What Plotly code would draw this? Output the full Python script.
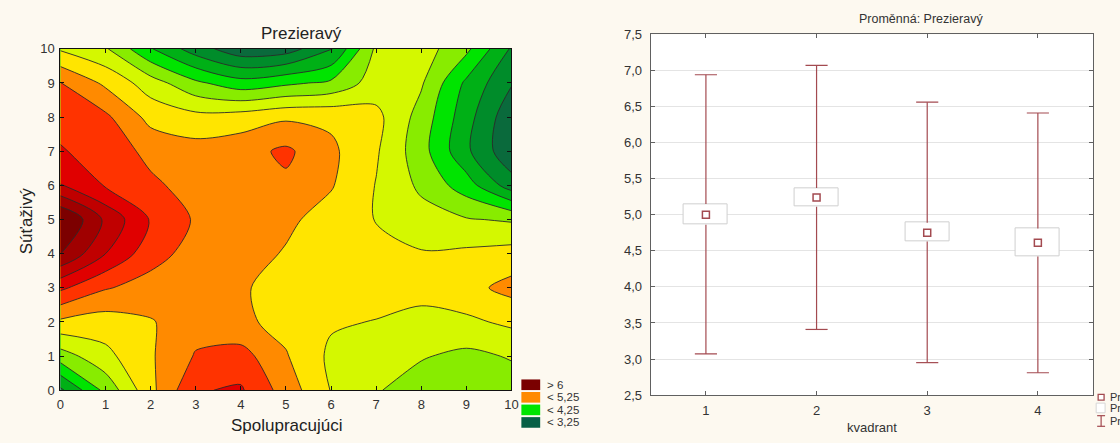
import plotly.graph_objects as go

W, H = 1120, 443

# ---------------- left panel: contour "Prezieravý" ----------------
spolupracujuci = [0, 1, 2, 3, 4, 5, 6, 7, 8, 9, 10]
sutazivy = [0, 1, 2, 3, 4, 5, 6, 7, 8, 9, 10]
prezieravy_y0 = [3.70, 4.32, 4.93, 5.48, 5.53, 5.14, 4.74, 4.52, 4.38, 4.33, 4.38]
prezieravy_y1 = [4.38, 4.68, 4.97, 5.27, 5.35, 5.02, 4.70, 4.60, 4.52, 4.44, 4.52]
prezieravy_y2 = [4.95, 4.88, 4.98, 5.15, 5.05, 4.92, 4.78, 4.74, 4.66, 4.70, 4.80]
prezieravy_y3 = [5.55, 5.27, 5.15, 5.10, 5.03, 4.90, 4.88, 4.86, 4.85, 4.92, 5.08]
prezieravy_y4 = [6.26, 5.75, 5.35, 5.15, 5.10, 4.98, 4.90, 4.82, 4.77, 4.80, 4.85]
prezieravy_y5 = [6.55, 5.95, 5.48, 5.22, 5.12, 5.05, 4.90, 4.74, 4.60, 4.52, 4.47]
prezieravy_y6 = [5.76, 5.48, 5.30, 5.15, 5.12, 5.20, 5.02, 4.74, 4.45, 4.12, 3.62]
prezieravy_y7 = [5.52, 5.40, 5.18, 5.10, 5.15, 5.30, 5.05, 4.78, 4.35, 3.80, 3.30]
prezieravy_y8 = [5.42, 5.30, 4.92, 4.83, 4.87, 4.96, 4.95, 4.82, 4.40, 3.85, 3.32]
prezieravy_y9 = [5.26, 4.95, 4.62, 4.30, 4.10, 4.20, 4.30, 4.62, 4.53, 3.95, 3.52]
prezieravy_y10 = [4.72, 4.53, 4.02, 3.62, 3.33, 3.38, 3.72, 4.55, 4.62, 4.31, 3.72]
prezieravy = [prezieravy_y0, prezieravy_y1, prezieravy_y2, prezieravy_y3,
              prezieravy_y4, prezieravy_y5, prezieravy_y6, prezieravy_y7,
              prezieravy_y8, prezieravy_y9, prezieravy_y10]

level_start, level_end, level_step = 3.25, 6.25, 0.25
band_colors = ["#07603f", "#0a6a3c", "#008c2a", "#00b016", "#00e400", "#88ec00",
               "#d4f800", "#ffe500", "#ff8a00", "#ff3300", "#e00000", "#c00000",
               "#a00000", "#7c0000"]
legend_labels = ["> 6", "< 5,25", "< 4,25", "< 3,25"]
legend_colors = ["#7a0000", "#ff8a00", "#00e400", "#075f45"]

# ---------------- right panel: means by kvadrant ----------------
kvadrant = [1, 2, 3, 4]
priemer = [5.00, 5.24, 4.75, 4.61]
box_low = [4.86, 5.11, 4.63, 4.42]
box_high = [5.15, 5.37, 4.89, 4.81]
whisker_low = [3.07, 3.41, 2.95, 2.81]
whisker_high = [6.94, 7.07, 6.56, 6.41]

FONT = "Arial, Liberation Sans, sans-serif"
BG = "#fdf9f0"
BROWN = "#a34a50"


def px(x):
    return x / W


def py(y):
    return 1 - y / H


fig = go.Figure()

n = len(band_colors) - 1
colorscale = [[i / n, c] for i, c in enumerate(band_colors)]
fig.add_trace(go.Contour(
    x=spolupracujuci, y=sutazivy, z=prezieravy,
    xaxis="x", yaxis="y",
    autocontour=False,
    contours=dict(start=level_start, end=level_end, size=level_step,
                  coloring="fill", showlines=True),
    colorscale=colorscale,
    line=dict(color="#2a2a2a", width=0.9, smoothing=0.85),
    showscale=False, hoverinfo="skip",
))

# boxes (mean +- SE)
fig.add_trace(go.Bar(
    x=kvadrant, y=[h - l for h, l in zip(box_high, box_low)], base=box_low,
    width=0.4, xaxis="x2", yaxis="y2",
    marker=dict(color="white", line=dict(color="#cfcfcf", width=1)),
    showlegend=False, hoverinfo="skip",
))

# whiskers built from the data arrays
cap = 0.1
wx, wy = [], []
for k, bl, bh, wl, wh in zip(kvadrant, box_low, box_high, whisker_low, whisker_high):
    wx += [k, k, None, k, k, None, k - cap, k + cap, None, k - cap, k + cap, None]
    wy += [bh, wh, None, bl, wl, None, wh, wh, None, wl, wl, None]
fig.add_trace(go.Scatter(
    x=wx, y=wy, mode="lines", xaxis="x2", yaxis="y2",
    line=dict(color=BROWN, width=1.2), showlegend=False, hoverinfo="skip",
))
fig.add_trace(go.Scatter(
    x=kvadrant, y=priemer, mode="markers", xaxis="x2", yaxis="y2",
    marker=dict(symbol="square-open", size=7, color=BROWN, line=dict(width=1.5)),
    showlegend=False,
))

axis_common = dict(showgrid=False, zeroline=False, showline=True, mirror="ticks",
                   ticks="inside", ticklen=4,
                   tickfont=dict(family=FONT, size=13, color="#333333"))

fig.update_layout(
    width=W, height=H,
    margin=dict(l=0, r=0, t=0, b=0),
    paper_bgcolor=BG, plot_bgcolor="white",
    separators=", ",
    showlegend=False,
    bargap=0,
    xaxis=dict(domain=[px(57), px(512.5)], range=[0, 10], dtick=1, tick0=0,
               linecolor="#111111", tickcolor="#111111", ticklabelstandoff=2,
               anchor="y", **axis_common),
    yaxis=dict(domain=[py(396.7), py(43.3)], range=[0, 10], dtick=1, tick0=0,
               linecolor="#111111", tickcolor="#111111", ticklabelstandoff=2,
               anchor="x", **axis_common),
    xaxis2=dict(domain=[px(653), px(1100)], range=[0.5, 4.5], tickvals=kvadrant,
                linecolor="#606060", tickcolor="#606060", ticklabelstandoff=3,
                anchor="y2", **axis_common),
    yaxis2=dict(domain=[py(401.7), py(28.3)], range=[2.5, 7.5], dtick=0.5, tick0=2.5,
                tickformat=".1f", linecolor="#606060", tickcolor="#606060",
                ticklabelstandoff=5, anchor="x2",
                **{**axis_common, "showgrid": True}, gridcolor="#e4e4e4", gridwidth=1),
)

ann = []
ann.append(dict(text="Prezieravý", x=px(300), y=py(27), font=dict(family=FONT, size=17, color="#222")))
ann.append(dict(text="Spolupracujúci", x=px(286), y=py(433), font=dict(family=FONT, size=17, color="#222")))
ann.append(dict(text="Súťaživý", x=px(23), y=py(222), textangle=-90, font=dict(family=FONT, size=17, color="#222")))
ann.append(dict(text="Proměnná: Prezieravý", x=px(926), y=py(12), font=dict(family=FONT, size=12.5, color="#333")))
ann.append(dict(text="kvadrant", x=px(877), y=py(435), font=dict(family=FONT, size=13, color="#333")))

shapes = []
leg_y = [391, 404, 417, 430]
for lab, col, yc in zip(legend_labels, legend_colors, leg_y):
    shapes.append(dict(type="rect", xref="paper", yref="paper",
                       x0=px(522.5), x1=px(541.5), y0=py(yc + 5.5), y1=py(yc - 5.5),
                       fillcolor=col, line=dict(width=0)))
    ann.append(dict(text=lab, x=px(546), y=py(yc), xanchor="left",
                    font=dict(family=FONT, size=11.5, color="#333")))

# right legend (cut by the page edge, as in the reference)
shapes.append(dict(type="rect", xref="paper", yref="paper",
                   x0=px(1105), x1=px(1111), y0=py(407), y1=py(401),
                   fillcolor="white", line=dict(color=BROWN, width=1.3)))
shapes.append(dict(type="rect", xref="paper", yref="paper",
                   x0=px(1103), x1=px(1112), y0=py(420), y1=py(410),
                   fillcolor="white", line=dict(color="#d6d6d6", width=1)))
shapes.append(dict(type="line", xref="paper", yref="paper",
                   x0=px(1108), x1=px(1108), y0=py(434), y1=py(423),
                   line=dict(color=BROWN, width=1.2)))
for yy in (423, 434):
    shapes.append(dict(type="line", xref="paper", yref="paper",
                       x0=px(1104), x1=px(1112), y0=py(yy), y1=py(yy),
                       line=dict(color=BROWN, width=1.2)))
for lab, yc in zip(["Průměr", "Průměr±SmCh", "Průměr±1,96*SmOdch"], [404, 415, 428]):
    ann.append(dict(text=lab, x=px(1115), y=py(yc), xanchor="left",
                    font=dict(family=FONT, size=11, color="#333")))

for a in ann:
    a.setdefault("xanchor", "center")
    a.update(xref="paper", yref="paper", yanchor="middle", showarrow=False)

fig.update_layout(annotations=ann, shapes=shapes)
fig.write_html("out.html")
